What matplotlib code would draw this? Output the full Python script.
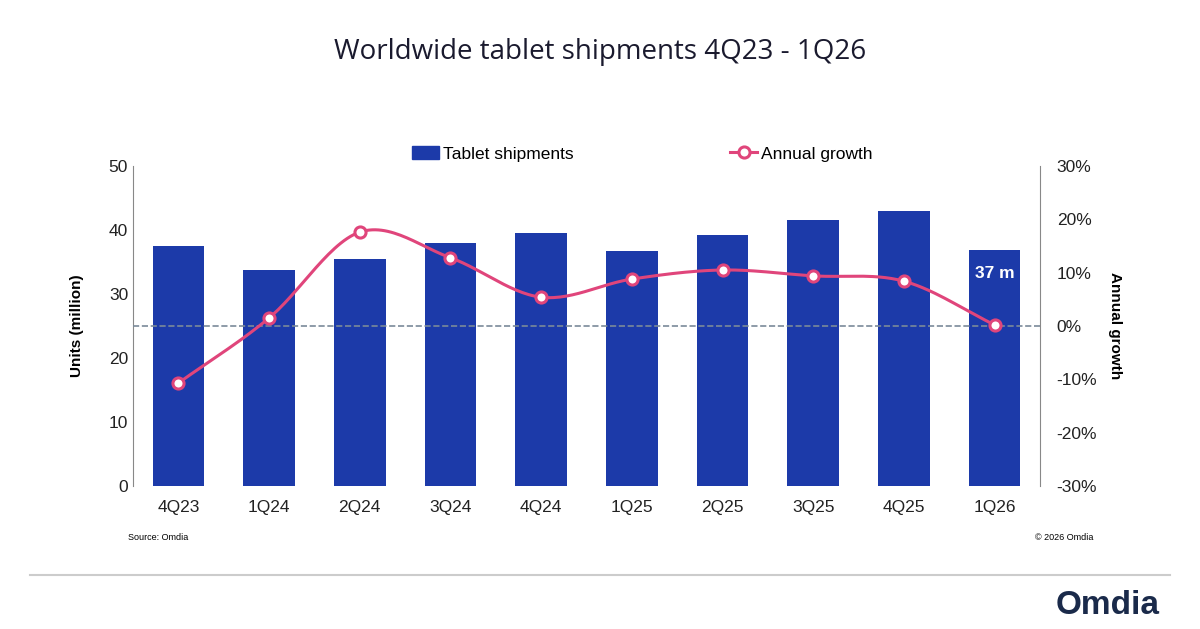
import numpy as np
import matplotlib.pyplot as plt
from matplotlib.lines import Line2D

plt.rcParams['font.family'] = ['Liberation Sans', 'DejaVu Sans']

quarters = ['4Q23', '1Q24', '2Q24', '3Q24', '4Q24', '1Q25', '2Q25', '3Q25', '4Q25', '1Q26']
shipments = [37.5, 33.8, 35.5, 38.0, 39.6, 36.7, 39.2, 41.6, 43.0, 36.8]
growth = [-10.7, 1.5, 17.6, 12.8, 5.4, 8.8, 10.5, 9.4, 8.4, 0.2]

BLUE = '#1c3aa9'
PINK = '#e0457b'


def smooth(x, y, n=30):
    # catmull-rom curve through the points
    x = np.asarray(x, float)
    y = np.asarray(y, float)
    px = np.concatenate([[2 * x[0] - x[1]], x, [2 * x[-1] - x[-2]]])
    py = np.concatenate([[2 * y[0] - y[1]], y, [2 * y[-1] - y[-2]]])
    xs, ys = [], []
    t = np.linspace(0, 1, n)
    for i in range(1, len(px) - 2):
        for p, out in ((px, xs), (py, ys)):
            p0, p1, p2, p3 = p[i - 1], p[i], p[i + 1], p[i + 2]
            out.extend(0.5 * (2 * p1 + (-p0 + p2) * t
                              + (2 * p0 - 5 * p1 + 4 * p2 - p3) * t ** 2
                              + (-p0 + 3 * p1 - 3 * p2 + p3) * t ** 3))
    return np.array(xs), np.array(ys)


fig = plt.figure(figsize=(12, 6.29), dpi=100)
ax = fig.add_axes([133 / 1200, 1 - 486 / 629, 907 / 1200, 320 / 629])
x = np.arange(len(quarters))
ax.bar(x, shipments, width=0.57, color=BLUE)
ax.set_ylim(0, 50)
ax.set_xlim(-0.5, len(quarters) - 0.5)
ax.set_xticks(x, quarters)
ax.set_yticks(range(0, 51, 10))
ax.tick_params(length=0, labelsize=12.5, colors='#222222')
ax.tick_params(axis='x', pad=10)
ax.set_ylabel('Units (million)', fontsize=11, fontweight='bold', labelpad=18)
for s in ['top', 'right', 'bottom']:
    ax.spines[s].set_visible(False)
ax.spines['left'].set_color('#888888')
ax.text(x[-1], shipments[-1] - 4.3, '37 m', color='white', fontsize=12.5,
        fontweight='bold', ha='center')

ax2 = ax.twinx()
ax2.set_ylim(-30, 30)
ax2.set_yticks(range(-30, 31, 10), [f'{v}%' for v in range(-30, 31, 10)])
ax2.tick_params(length=0, labelsize=12.5, colors='#222222', pad=12)
ax2.axhline(0, color='#7a8a99', ls='--', lw=1.2)
sx, sy = smooth(x, growth)
ax2.plot(sx, sy, color=PINK, lw=2.2)
ax2.plot(x, growth, 'o', color=PINK, mfc='white', mec=PINK, mew=2.2, ms=8)
ax2.set_ylabel('Annual growth', fontsize=11, fontweight='bold', rotation=270, labelpad=18)
for s in ['top', 'left', 'bottom']:
    ax2.spines[s].set_visible(False)
ax2.spines['right'].set_color('#888888')

handles = [plt.Rectangle((0, 0), 1, 1, color=BLUE),
           Line2D([], [], color=PINK, lw=2.2, marker='o', mfc='white', ms=8, mew=2.2)]
fig.legend(handles, ['Tablet shipments', 'Annual growth'], loc='center',
           bbox_to_anchor=(0.535, 1 - 154 / 629), ncol=2, frameon=False,
           fontsize=12.5, columnspacing=9, handlelength=1.6, handletextpad=0.2)

fig.text(0.5, 1 - 52 / 629, 'Worldwide tablet shipments 4Q23 - 1Q26',
         ha='center', va='center', fontsize=20, color='#1a1a2e', family='Open Sans')
fig.text(128 / 1200, 1 - 537 / 629, 'Source: Omdia', fontsize=6.5, va='center')
fig.text(1093 / 1200, 1 - 537 / 629, '© 2026 Omdia', fontsize=6.5, va='center', ha='right')
fig.add_artist(Line2D([30 / 1200, 1170 / 1200], [1 - 575 / 629] * 2, color='#cccccc', lw=1.5))
fig.text(1160 / 1200, 1 - 606 / 629, 'Omdia', fontsize=24, fontweight='bold',
         color='#1a2a4a', ha='right', va='center')

fig.savefig('out.png', dpi=100)
